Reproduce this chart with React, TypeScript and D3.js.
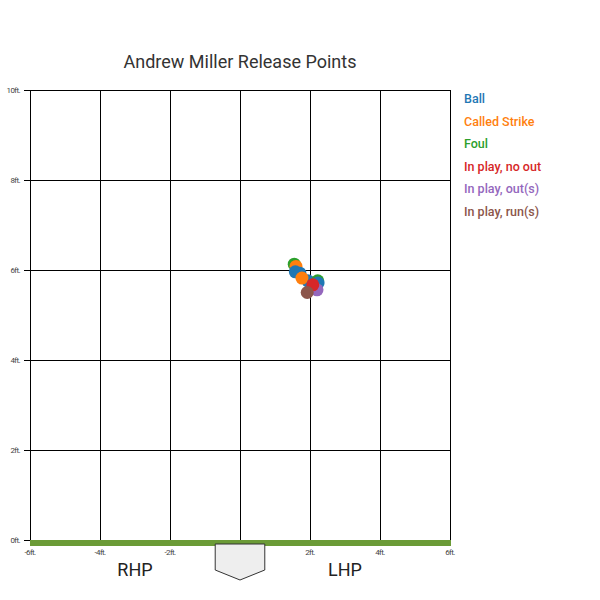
import React from "react";
import * as d3 from "d3";

const categories = ["Ball", "Called Strike", "Foul", "In play, no out", "In play, out(s)", "In play, run(s)"];
const colors = ["#1f77b4", "#ff7f0e", "#2ca02c", "#d62728", "#9467bd", "#8c564b"];

// release points: horizontal (ft), height (ft), result category
const pointX = [1.55, 1.6, 1.58, 1.71, 1.94, 1.77, 2.22, 2.23, 2.2, 2.08, 1.92];
const pointY = [6.13, 6.08, 5.96, 5.93, 5.76, 5.82, 5.76, 5.71, 5.56, 5.67, 5.5];
const pointCat = ["Foul", "Called Strike", "Ball", "Ball", "Ball", "Called Strike", "Foul", "Ball", "In play, out(s)", "In play, no out", "In play, run(s)"];

const xTicks = [-6, -4, -2, 0, 2, 4, 6];
const yTicks = [0, 2, 4, 6, 8, 10];

export default function App() {
  const x = d3.scaleLinear().domain([-6, 6]).range([30, 450]);
  const y = d3.scaleLinear().domain([0, 10]).range([540, 90]);
  const color = d3.scaleOrdinal<string, string>().domain(categories).range(colors);
  const plateW = (17 / 12) * 35;
  const px = x(0);
  const plate = [
    [px - plateW / 2, 544],
    [px + plateW / 2, 544],
    [px + plateW / 2, 570],
    [px, 580],
    [px - plateW / 2, 570],
  ];
  return (
    <svg width={600} height={600} style={{ position: "absolute", left: 0, top: 0 }} fontFamily="Roboto">
      <rect width={600} height={600} fill="#fff" />
      <text x={240} y={68} textAnchor="middle" fontSize={18} fill="#333">Andrew Miller Release Points</text>
      {xTicks.map((t) => (
        <line key={"vx" + t} x1={x(t) + 0.5} x2={x(t) + 0.5} y1={y(10)} y2={y(0)} stroke="#000" strokeWidth={1} />
      ))}
      {yTicks.map((t) => (
        <g key={"hy" + t}>
          <line x1={24} x2={x(6) + 1} y1={y(t) + 0.5} y2={y(t) + 0.5} stroke="#000" strokeWidth={1} />
          <text x={20} y={y(t)} dy="0.32em" textAnchor="end" fontSize={8} letterSpacing={-0.6} fill="#444">{t + "ft."}</text>
        </g>
      ))}
      {xTicks.map((t) => (
        <text key={"tx" + t} x={x(t)} y={555} textAnchor="middle" fontSize={8} letterSpacing={-0.6} fill="#444">{t + "ft."}</text>
      ))}
      <rect x={x(-6)} y={540} width={x(6) - x(-6) + 1} height={6} fill="#6b9b37" />
      <polygon points={plate.map((p) => p.join(",")).join(" ")} fill="#eee" stroke="#333" strokeWidth={1} />
      <text x={135} y={576} textAnchor="middle" fontSize={18} fill="#222">RHP</text>
      <text x={345} y={576} textAnchor="middle" fontSize={18} fill="#222">LHP</text>
      {pointX.map((v, i) => (
        <circle key={"p" + i} cx={x(v)} cy={y(pointY[i])} r={6.5} fill={color(pointCat[i])} />
      ))}
      {categories.map((c, i) => (
        <text key={c} x={464} y={99 + i * 22.5} dy="0.35em" fontSize={12.5} fontWeight={500} fill={color(c)}>{c}</text>
      ))}
    </svg>
  );
}
